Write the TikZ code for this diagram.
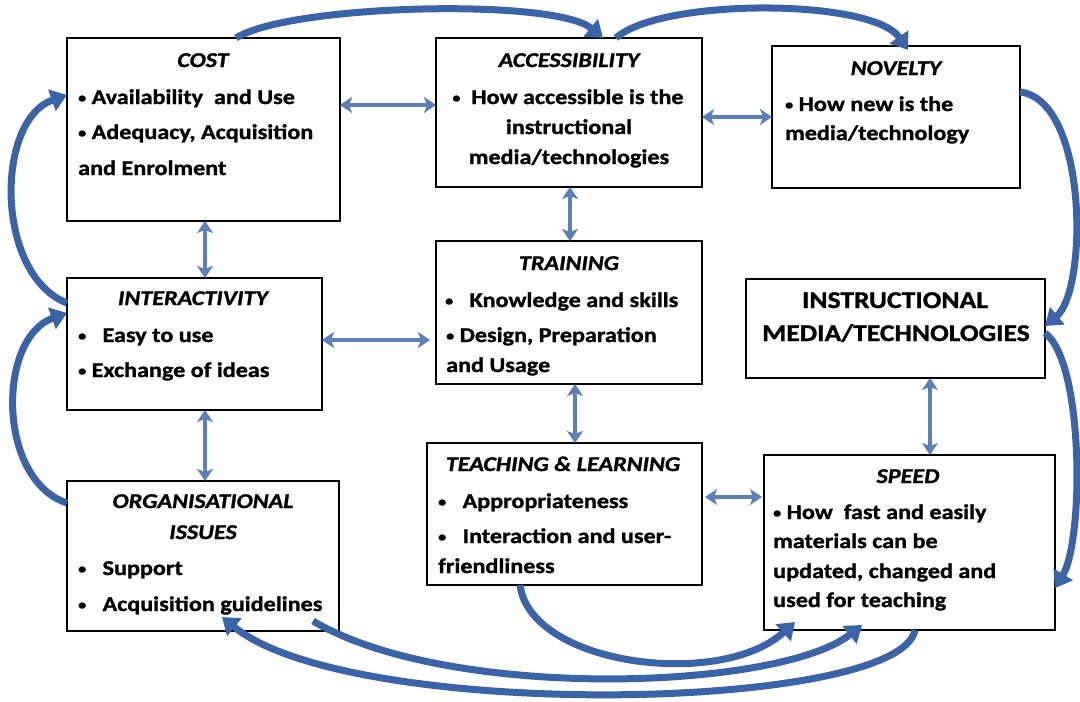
\documentclass[tikz,border=0pt]{standalone}
\usepackage{fontspec}
\setmainfont{Carlito}[FakeStretch=1.15, BoldFeatures={FakeBold=1.2}, BoldItalicFeatures={FakeBold=1.2}]
\usetikzlibrary{arrows.meta}
\definecolor{lightarr}{HTML}{5B7FB8}
\definecolor{curvearr}{HTML}{3B64A8}
\newcommand{\bul}{\raisebox{1.5pt}{\fontsize{14}{14}\selectfont •}}
\begin{document}
\begin{tikzpicture}[x=1pt,y=-1pt,
  box/.style={draw, line width=2.8, inner sep=0, outer sep=0},
  ln/.style={anchor=west, inner sep=0, text height=14, text depth=4, yshift=-2, font=\fontsize{21}{25}\selectfont\bfseries},
  lnc/.style={ln, anchor=center},
  ttl/.style={anchor=center, inner sep=0, text height=14, text depth=4, yshift=-2, font=\fontsize{21}{25}\selectfont\bfseries\itshape},
  big/.style={anchor=center, inner sep=0, text height=16, text depth=4, yshift=-2, font=\fontsize{24}{28}\selectfont\bfseries},
  dbl/.style={draw=lightarr, line width=3.3, {Stealth[length=12,width=16,inset=3]}-{Stealth[length=12,width=16,inset=3]}},
  crv/.style={draw=curvearr, line width=7, -{Triangle[length=16,width=22]}}
]
\useasboundingbox[fill=white] (0,0) rectangle (1080,702);

% boxes
\node[box, minimum width=273, minimum height=183] (cost) at (203.5,129.5) {};
\node[box, minimum width=266, minimum height=149] (acc) at (569,112.5) {};
\node[box, minimum width=248, minimum height=142] (nov) at (896,117) {};
\node[box, minimum width=255, minimum height=132] (inter) at (194.5,344) {};
\node[box, minimum width=266, minimum height=143] (train) at (569,312.5) {};
\node[box, minimum width=299, minimum height=99] (instr) at (895.5,328.5) {};
\node[box, minimum width=275, minimum height=142] (teach) at (564.5,514) {};
\node[box, minimum width=272, minimum height=150] (org) at (203,556) {};
\node[box, minimum width=291, minimum height=175] (speed) at (909.5,542.5) {};

% texts
\node[ttl] (costT) at (203,60) {COST};
\node[ln] (cost1) at (78,97) {\bul\ Availability~ and Use};
\node[ln] (cost2) at (78,132) {\bul\ Adequacy, Acquisition};
\node[ln] (cost3) at (78,168) {and Enrolment};

\node[ttl] (accT) at (569,60) {ACCESSIBILITY};
\node[lnc] (acc1) at (568,97) {\bul~~How accessible is the};
\node[lnc] (acc2) at (569,127) {instructional};
\node[lnc] (acc3) at (569,157) {media/technologies};

\node[ttl] (novT) at (896,68) {NOVELTY};
\node[ln] (nov1) at (785,104) {\bul\ How new is the};
\node[ln] (nov2) at (785,133) {media/technology};

\node[ttl] (interT) at (193,298) {INTERACTIVITY};
\node[ln] (inter1) at (78,335) {\bul~~~Easy to use};
\node[ln] (inter2) at (78,370) {\bul\ Exchange of ideas};

\node[ttl] (trainT) at (569,263) {TRAINING};
\node[ln] (train1) at (445,300) {\bul~~~Knowledge and skills};
\node[ln] (train2) at (446,335) {\bul\ Design, Preparation};
\node[ln] (train3) at (446,365) {and Usage};

\node[big] (instr1) at (895,300) {INSTRUCTIONAL};
\node[big] (instr2) at (896,333) {MEDIA/TECHNOLOGIES};

\node[ttl] (teachT) at (563,464) {TEACHING \& LEARNING};
\node[ln] (teach1) at (438,501) {\bul~~~Appropriateness};
\node[ln] (teach2) at (438,536) {\bul~~~Interaction and user-};
\node[ln] (teach3) at (438,566) {friendliness};

\node[ttl] (orgT1) at (203,501) {ORGANISATIONAL};
\node[ttl] (orgT2) at (203,532) {ISSUES};
\node[ln] (org1) at (78,568) {\bul~~~Support};
\node[ln] (org2) at (78,604) {\bul~~~Acquisition guidelines};

\node[ttl] (speedT) at (908,476) {SPEED};
\node[ln] (speed1) at (773,512) {\bul\ How~ fast and easily};
\node[ln] (speed2) at (773,541) {materials can be};
\node[ln] (speed3) at (773,571) {updated, changed and};
\node[ln] (speed4) at (773,600) {used for teaching};

% straight double arrows
\draw[dbl] (cost.east |- 0,105) -- (acc.west |- 0,105);
\draw[dbl] (acc.east |- 0,117) -- (nov.west |- 0,117);
\draw[dbl] (cost.south -| 205,0) -- (inter.north -| 205,0);
\draw[dbl] (inter.east |- 0,340) -- ([xshift=-6]train.west |- 0,340);
\draw[dbl] (acc.south -| 570,0) -- (train.north -| 570,0);
\draw[dbl] (train.south -| 575,0) -- (teach.north -| 575,0);
\draw[dbl] (inter.south -| 205,0) -- (org.north -| 205,0);
\draw[dbl] (instr.south -| 930,0) -- (speed.north -| 930,0);
\draw[dbl] ([xshift=3]teach.east |- 0,497) -- ([xshift=-2]speed.west |- 0,497);

% curved arrows
\coordinate (t1a) at (cost.north -| 236,0);
\coordinate (t1b) at (acc.north -| 603,0);
\coordinate (t2a) at (acc.north -| 616,0);
\coordinate (t2b) at ([yshift=-4]nov.north -| 908,0);
\draw[crv] (t1a) .. controls (290,4) and (555,-2) .. (t1b);
\draw[crv] (t2a) .. controls (660,-2) and (872,-2) .. (t2b);

\coordinate (l1a) at (inter.west |- 0,303);
\coordinate (l1b) at (cost.west |- 0,95);
\draw[crv] (l1a) .. controls (-5,275) and (-5,120) .. (l1b);
\coordinate (l2a) at (org.west |- 0,503);
\coordinate (l2b) at (inter.west |- 0,313);
\draw[crv] (l2a) .. controls (-3,480) and (-3,338) .. (l2b);

\coordinate (r1a) at (nov.east |- 0,92);
\coordinate (r1b) at (instr.east |- 0,326);
\draw[crv] (r1a) .. controls (1088,100) and (1088,290) .. (r1b);
\coordinate (r2a) at (instr.east |- 0,333);
\coordinate (r2b) at (speed.east |- 0,588);
\draw[crv] (r2a) .. controls (1084,362) and (1084,540) .. (r2b);

\coordinate (bAa) at (teach.south -| 520,0);
\coordinate (bAb) at ([yshift=8]speed.south -| 795,0);
\draw[crv] (bAa) .. controls (530,665) and (720,690) .. (bAb);
\coordinate (bBa) at ([yshift=10]org.south -| 313,0);
\coordinate (bBb) at ([yshift=5]speed.south -| 862,0);
\draw[crv] (bBa) .. controls (450,702) and (780,690) .. (bBb);
\coordinate (bCa) at (speed.south -| 915,0);
\coordinate (bCb) at ([yshift=14]org.south -| 222,0);
\draw[crv] (bCa) .. controls (900,712) and (350,722) .. (bCb);
\end{tikzpicture}
\end{document}
